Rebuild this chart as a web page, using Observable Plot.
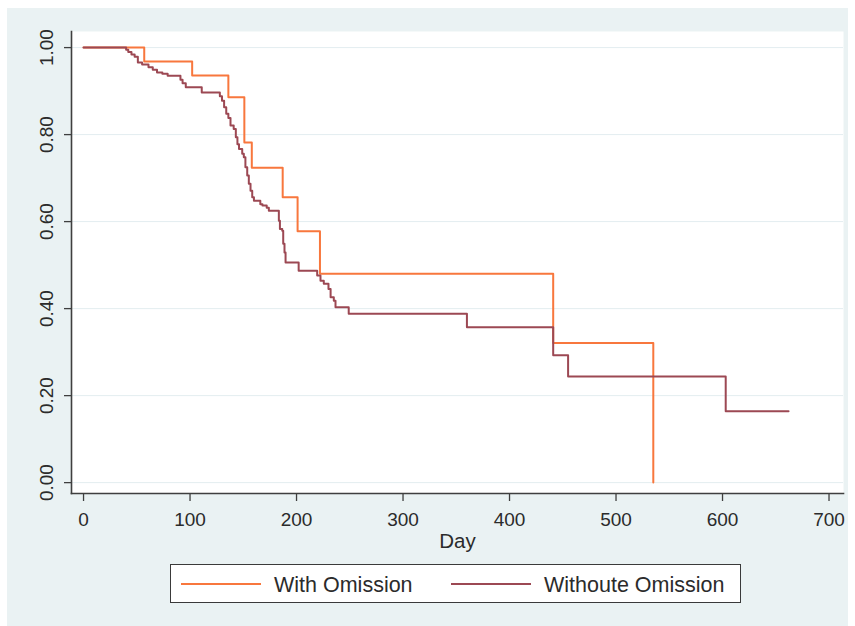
<!DOCTYPE html>
<html>
<head>
<meta charset="utf-8">
<script src="https://cdn.jsdelivr.net/npm/d3@7"></script>
<script src="https://cdn.jsdelivr.net/npm/@observablehq/plot@0.6"></script>
<style>
  body { margin: 0; background: #ffffff; font-family: "Liberation Sans", Arial, sans-serif; }
  #bg { position: absolute; left: 7px; top: 8px; width: 841px; height: 618px; background: #eaf2f3; }
  #chart { position: absolute; left: 0; top: 0; }
  #legend { position: absolute; left: 170px; top: 564px; width: 569px; height: 37px; background: #fff; border: 1.5px solid #3a3a3a; }
  .sw { position: absolute; top: 18px; width: 80px; height: 2px; }
  .lt { position: absolute; top: 8px; font-size: 21.5px; line-height: 24px; color: #2b2b2b; white-space: nowrap; }
</style>
</head>
<body>
<div id="bg"></div>
<div id="chart"></div>
<div id="legend"></div>
<script>
// Kaplan-Meier style survival curves
const withDay  = [0, 57, 102, 136, 151, 158, 187, 201, 222, 441, 535];
const withSurv = [1, 0.968, 0.936, 0.886, 0.782, 0.724, 0.656, 0.578, 0.480, 0.321, 0];

const withoutDay  = [0, 40, 42, 45, 48, 51, 55, 61, 65, 69, 74, 79, 91, 93, 96, 111, 128, 130, 132, 134,
                     136, 138, 141, 143, 144.5, 146, 149, 150.5, 152, 153.7, 155.2, 156.8, 158.4, 160, 166, 168, 172, 174, 183.4, 184.4,
                     186.6, 187.5, 188.7, 189.7, 202, 219.4, 222.5, 225.6, 230, 232, 235, 236.6, 249, 360, 441, 455, 603, 662];
const withoutSurv = [1, 0.995, 0.990, 0.984, 0.979, 0.966, 0.961, 0.955, 0.949, 0.943, 0.940, 0.935, 0.926, 0.918, 0.909, 0.897, 0.888, 0.878, 0.863, 0.848,
                     0.838, 0.821, 0.813, 0.794, 0.778, 0.767, 0.756, 0.748, 0.725, 0.706, 0.687, 0.671, 0.656, 0.648, 0.640, 0.637, 0.632, 0.625, 0.602, 0.583,
                     0.579, 0.549, 0.529, 0.506, 0.487, 0.476, 0.464, 0.457, 0.445, 0.426, 0.418, 0.403, 0.388, 0.357, 0.293, 0.244, 0.164, 0.164];

const seriesNames = ["With Omission", "Withoute Omission"];
const seriesColors = ["#f8773d", "#9c4853"];
const xTicks = [0, 100, 200, 300, 400, 500, 600, 700];
const yTicks = [0, 0.2, 0.4, 0.6, 0.8, 1.0];
const xLabel = "Day";

const rowsWith = withDay.map((d, i) => ({day: d, surv: withSurv[i]}));
const rowsWithout = withoutDay.map((d, i) => ({day: d, surv: withoutSurv[i]}));

const axisColor = "#3f3f3f";
const chart = Plot.plot({
  width: 855,
  height: 560,
  marginLeft: 71,
  marginRight: 12,
  marginTop: 31,
  marginBottom: 67,
  style: {background: "transparent", fontFamily: "Liberation Sans, Arial, sans-serif", color: "#2b2b2b"},
  x: {domain: [-11.3, 713.6]},
  y: {domain: [-0.025, 1.037]},
  marks: [
    Plot.frame({fill: "white", stroke: "none"}),
    Plot.gridY(yTicks, {stroke: "#e3edf0", strokeOpacity: 1, strokeWidth: 1}),
    Plot.line(rowsWith, {x: "day", y: "surv", curve: "step-after", stroke: seriesColors[0], strokeWidth: 2}),
    Plot.line(rowsWithout, {x: "day", y: "surv", curve: "step-after", stroke: seriesColors[1], strokeWidth: 2}),
    Plot.axisX(xTicks, {tickSize: 8, tickPadding: 11, fontSize: 19, label: null, stroke: axisColor, strokeWidth: 1.3}),
    Plot.axisY(yTicks, {tickSize: 7, tickPadding: 12, tickRotate: -90, tickFormat: ".2f", fontSize: 19, label: null, stroke: axisColor, strokeWidth: 1.3}),
    Plot.frame({anchor: "left", stroke: axisColor, strokeWidth: 1.6}),
    Plot.frame({anchor: "bottom", stroke: axisColor, strokeWidth: 1.6}),
    Plot.text([xLabel], {frameAnchor: "bottom", lineAnchor: "bottom", dy: 54, fontSize: 20.5, fill: "#2b2b2b"})
  ]
});
document.getElementById("chart").appendChild(chart);

// Legend
const legend = document.getElementById("legend");
const swLeft = [10, 280];
const txtLeft = [103, 373];
seriesNames.forEach((name, i) => {
  const sw = document.createElement("div");
  sw.className = "sw";
  sw.style.left = swLeft[i] + "px";
  sw.style.background = seriesColors[i];
  legend.appendChild(sw);
  const t = document.createElement("div");
  t.className = "lt";
  t.style.left = txtLeft[i] + "px";
  t.textContent = name;
  legend.appendChild(t);
});
</script>
</body>
</html>
